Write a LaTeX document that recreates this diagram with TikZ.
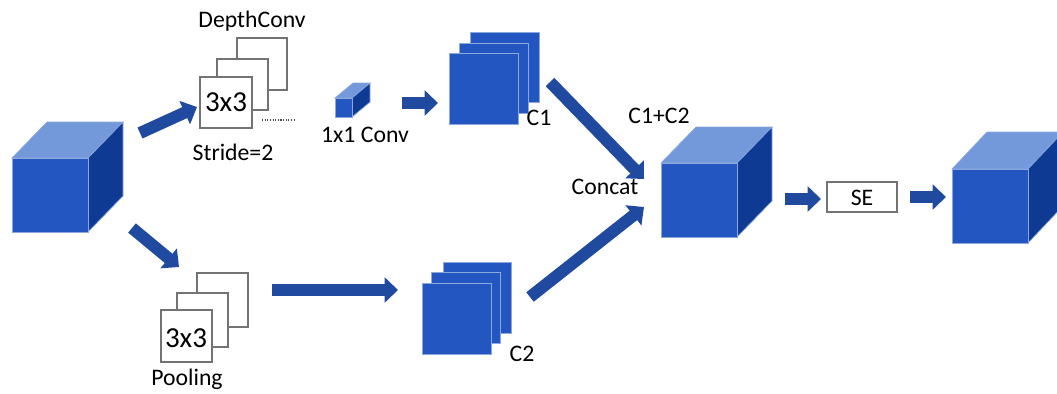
\documentclass[tikz,border=0pt]{standalone}
\usepackage{fontspec}
\setmainfont{Carlito}
\usetikzlibrary{arrows.meta}
\definecolor{cfront}{HTML}{2356C0}
\definecolor{ctop}{HTML}{7399DA}
\definecolor{cside}{HTML}{0E3A94}
\definecolor{carrow}{HTML}{1F4AA0}
\definecolor{cedge}{HTML}{8CA8DE}
\newcommand\blockcube[7]{% name, x1, y1, x2, y2, dx, dy
  \fill[ctop,draw=cedge,line width=0.4pt] (#2,#3) -- (#2+#6,#3+#7) -- (#4+#6,#3+#7) -- (#4,#3) -- cycle;
  \fill[cside,draw=cedge,line width=0.4pt] (#4,#3) -- (#4+#6,#3+#7) -- (#4+#6,#5+#7) -- (#4,#5) -- cycle;
  \node[bface,minimum width={(#4-#2)*0.02cm},minimum height={(#5-#3)*0.02cm}] (#1) at ({(#2+#4)/2},{(#3+#5)/2}) {};
}
\newcommand\sheetnode[6]{% name, style, x1, y1, x2, y2
  \node[#2,minimum width={(#5-#3)*0.02cm},minimum height={(#6-#4)*0.02cm}] (#1) at ({(#3+#5)/2},{(#4+#6)/2}) {};
}
\begin{document}
\begin{tikzpicture}[x=0.02cm,y=-0.02cm,
  bface/.style={fill=cfront,draw=cedge,line width=0.4pt,inner sep=0pt,outer sep=0pt},
  flow/.style={carrow,line width=0.24cm,-{Triangle[width=0.5cm,length=0.27cm]}},
  lbl/.style={font=\fontsize{13.5}{15}\selectfont,inner sep=0pt,anchor=base},
  big/.style={font=\fontsize{16.5}{19}\selectfont,inner sep=0pt,anchor=base},
  wsheet/.style={fill=white,draw=black!55,line width=0.6pt,inner sep=0pt,outer sep=0pt},
  bsheet/.style={fill=cfront,draw=cedge,line width=0.4pt,inner sep=0pt,outer sep=0pt},
  sebox/.style={fill=white,draw=black!55,line width=0.8pt,inner sep=0pt,outer sep=0pt}]
\useasboundingbox (0,0) rectangle (1057,393);
\clip (0,0) rectangle (1057,393);

% cubes
\blockcube{incube}{12}{158}{88}{232}{35}{-36}
\blockcube{midcube}{661}{163}{737}{237}{35}{-36}
\blockcube{outcube}{952}{169}{1028}{243}{35}{-37}
\blockcube{conv}{335}{98}{352}{117}{18}{-15}

% depthconv sheets
\sheetnode{dc3}{wsheet}{237}{38}{287}{90}
\sheetnode{dc2}{wsheet}{217}{59}{268}{110}
\sheetnode{dc1}{wsheet}{200}{77}{252}{128}
\node[big] (dctext) at (226,111) {3x3};
\coordinate (dotA) at (262,120);
\coordinate (dotB) at (295,120);
\draw[black!70,line width=0.7pt,dash pattern=on 0.6pt off 0.9pt] (dotA) -- (dotB);

% pooling sheets
\sheetnode{pl3}{wsheet}{197}{273}{248}{327}
\sheetnode{pl2}{wsheet}{177}{293}{228}{347}
\sheetnode{pl1}{wsheet}{161}{310}{212}{362}
\node[big] (pltext) at (186,347) {3x3};

% C1 sheets
\sheetnode{ca3}{bsheet}{470}{32}{539}{102}
\sheetnode{ca2}{bsheet}{459}{43}{528}{113}
\sheetnode{ca1}{bsheet}{449}{53}{518}{124}

% C2 sheets
\sheetnode{cb3}{bsheet}{443}{262}{511}{333}
\sheetnode{cb2}{bsheet}{431}{272}{500}{343}
\sheetnode{cb1}{bsheet}{422}{283}{491}{354}

% SE box
\sheetnode{se}{sebox}{827}{182}{897}{212}
\node[lbl] (setext) at (862,205) {SE};

% labels
\node[lbl] (l1) at (252,27) {DepthConv};
\node[lbl] (l2) at (233,160) {Stride=2};
\node[lbl] (l3) at (365,142) {1x1 Conv};
\node[lbl] (l4) at (539,125) {C1};
\node[lbl] (l5) at (659,123) {C1+C2};
\node[lbl] (l6) at (605,194) {Concat};
\node[lbl] (l7) at (187,385) {Pooling};
\node[lbl] (l8) at (522,361) {C2};

% arrows
\coordinate (a1s) at (140,133); \coordinate (a1e) at (197,107);
\coordinate (a2s) at (402,103); \coordinate (a2e) at (438,103);
\coordinate (a3s) at (550,82);  \coordinate (a3e) at (644,179);
\coordinate (a4s) at (132,228); \coordinate (a4e) at (179,267);
\coordinate (a5s) at (272,290); \coordinate (a5e) at (398,290);
\coordinate (a6s) at (530,297); \coordinate (a6e) at (644,207);
\coordinate (a7s) at (785,199); \coordinate (a7e) at (821,199);
\coordinate (a8s) at (910,197); \coordinate (a8e) at (946,197);
\draw[flow] (a1s) -- (a1e);
\draw[flow] (a2s) -- (a2e);
\draw[flow] (a3s) -- (a3e);
\draw[flow] (a4s) -- (a4e);
\draw[flow] (a5s) -- (a5e);
\draw[flow] (a6s) -- (a6e);
\draw[flow] (a7s) -- (a7e);
\draw[flow] (a8s) -- (a8e);
\end{tikzpicture}
\end{document}
